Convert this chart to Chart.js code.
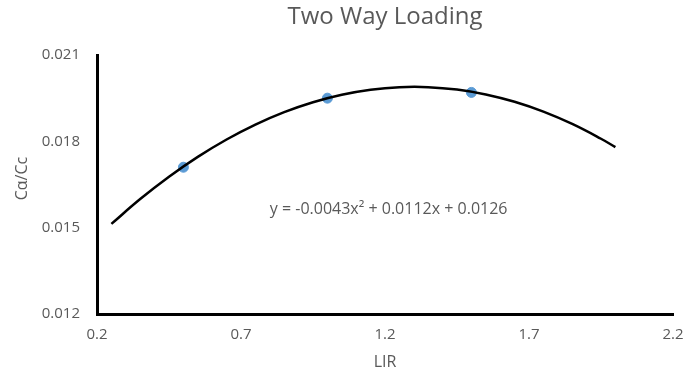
<!DOCTYPE html>
<html lang="en">
<head>
  <meta charset="UTF-8" />
  <title>Two Way Loading</title>
  <script src="https://cdn.jsdelivr.net/npm/chart.js"></script>
  <style>
    html, body { margin: 0; padding: 0; background: #fff; }
    #wrap { width: 684px; height: 377px; }
  </style>
</head>
<body>
  <div id="wrap"><canvas id="chart"></canvas></div>

  <script>
    // measured points
    const lir = [0.5, 1.0, 1.5];
    const ratio = [0.0171, 0.0195, 0.0197];

    // polynomial trendline, y = a*x^2 + b*x + c, over x = 0.25 .. 2.0
    const trendCoef = [-0.0043, 0.0112, 0.0126];
    const trendX = [0.25, 0.35, 0.45, 0.55, 0.65, 0.75, 0.85, 0.95, 1.05, 1.15,
                    1.25, 1.35, 1.45, 1.55, 1.65, 1.75, 1.85, 1.95, 2.0];
    const trendLabel = 'y = -0.0043x\u00B2 + 0.0112x + 0.0126';

    const xTicks = [0.2, 0.7, 1.2, 1.7, 2.2];
    const yTicks = [0.012, 0.015, 0.018, 0.021];

    const FONT = '"Open Sans", "Noto Sans", sans-serif';
    const GREY = '#595959';

    const trendPts = trendX.map(x => ({
      x, y: trendCoef[0] * x * x + trendCoef[1] * x + trendCoef[2]
    }));

    // title, axis titles and the trendline equation
    const textPlugin = {
      id: 'texts',
      afterDraw(chart) {
        const { ctx, chartArea: a, scales } = chart;
        const cx = (a.left + a.right) / 2;
        ctx.save();
        ctx.fillStyle = GREY;
        ctx.textAlign = 'center';
        ctx.textBaseline = 'middle';
        ctx.font = '24px ' + FONT;
        ctx.fillText('Two Way Loading', cx, 17);
        ctx.font = '16px ' + FONT;
        ctx.fillText('LIR', cx, 362);
        ctx.save();
        ctx.translate(22, (a.top + a.bottom) / 2 - 6);
        ctx.rotate(-Math.PI / 2);
        ctx.fillText('C\u03B1/Cc', 0, 0);
        ctx.restore();
        ctx.textAlign = 'left';
        ctx.font = '16px ' + FONT;
        ctx.fillText(trendLabel, scales.x.getPixelForValue(0.8), scales.y.getPixelForValue(0.01565));
        ctx.restore();
      }
    };

    new Chart(document.getElementById('chart'), {
      type: 'scatter',
      data: {
        datasets: [{
          type: 'line',
          data: trendPts,
          borderColor: '#000',
          borderWidth: 2.5,
          pointRadius: 0,
          tension: 0.4,
          fill: false,
          order: 0
        }, {
          data: lir.map((x, i) => ({ x, y: ratio[i] })),
          backgroundColor: '#5b9bd5',
          borderColor: '#5b9bd5',
          pointRadius: 5,
          order: 1
        }]
      },
      options: {
        responsive: true,
        maintainAspectRatio: false,
        animation: false,
        layout: { padding: { top: 55, right: 11, left: 0, bottom: 0 } },
        plugins: { legend: { display: false }, tooltip: { enabled: false }, title: { display: false } },
        scales: {
          x: {
            type: 'linear',
            min: xTicks[0],
            max: xTicks[xTicks.length - 1],
            afterBuildTicks: s => { s.ticks = xTicks.map(v => ({ value: v })); },
            afterFit: s => { s.height = 63; s.paddingRight = 0; s.paddingLeft = 0; },
            grid: { display: false, drawTicks: false },
            border: { display: true, color: '#000', width: 3 },
            ticks: {
              padding: 12,
              color: GREY,
              font: { family: FONT, size: 15 },
              callback: v => v.toFixed(1)
            }
          },
          y: {
            type: 'linear',
            min: yTicks[0],
            max: yTicks[yTicks.length - 1],
            afterBuildTicks: s => { s.ticks = yTicks.map(v => ({ value: v })); },
            afterFit: s => { s.width = 97; },
            grid: { display: false, drawTicks: false },
            border: { display: true, color: '#000', width: 3 },
            ticks: {
              padding: 17,
              color: GREY,
              font: { family: FONT, size: 15 },
              callback: v => v.toFixed(3)
            }
          }
        }
      },
      plugins: [textPlugin]
    });
  </script>
</body>
</html>
